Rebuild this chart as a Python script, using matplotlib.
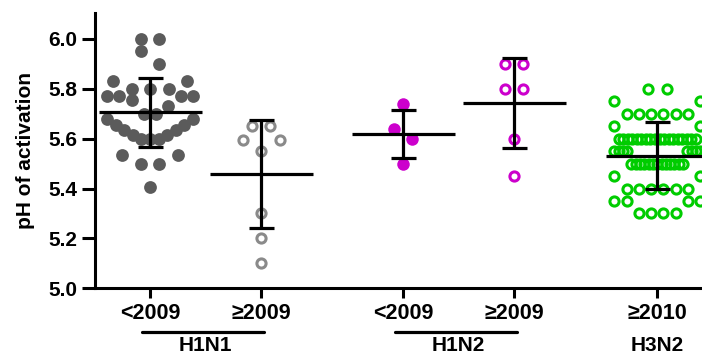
import numpy as np
import matplotlib
matplotlib.use("Agg")
import matplotlib.pyplot as plt
from matplotlib.transforms import blended_transform_factory

plt.rcParams['font.family'] = ['Liberation Sans', 'DejaVu Sans']
plt.rcParams['font.weight'] = 'bold'

# ---------------- data ----------------
tick_labels = ["<2009", "\u22652009", "<2009", "\u22652009", "\u22652010"]
subtypes = ["H1N1", "H1N2", "H3N2"]

h1n1_pre = [6.00, 6.00, 5.95, 5.90, 5.83, 5.83, 5.80, 5.80, 5.80,
            5.77, 5.77, 5.77, 5.77, 5.755, 5.73, 5.70, 5.70,
            5.68, 5.68, 5.655, 5.655, 5.635, 5.635, 5.615, 5.615,
            5.60, 5.60, 5.60, 5.535, 5.535, 5.50, 5.50, 5.405]
h1n1_post = [5.65, 5.65, 5.595, 5.595, 5.55, 5.30, 5.20, 5.10]
h1n2_pre = [5.74, 5.64, 5.60, 5.50]
h1n2_post = [5.90, 5.90, 5.80, 5.80, 5.60, 5.45]
h3n2_post = [5.80, 5.80,
             5.75, 5.75,
             5.70, 5.70, 5.70, 5.70, 5.70, 5.70,
             5.65, 5.65,
             5.60, 5.60, 5.60, 5.60, 5.60, 5.60, 5.60, 5.60, 5.60,
             5.60, 5.60, 5.60, 5.60, 5.60, 5.60, 5.60, 5.60, 5.60,
             5.55, 5.55, 5.55, 5.55, 5.55, 5.55, 5.55, 5.55,
             5.50, 5.50, 5.50, 5.50, 5.50, 5.50, 5.50, 5.50, 5.50,
             5.50, 5.50, 5.50, 5.50,
             5.45, 5.45,
             5.40, 5.40, 5.40, 5.40, 5.40, 5.40,
             5.35, 5.35, 5.35, 5.35,
             5.30, 5.30, 5.30, 5.30]

group_means = [5.706, 5.459, 5.618, 5.742, 5.531]
group_sds = [0.138, 0.217, 0.095, 0.180, 0.134]

# ---------------- layout / style ----------------
groups = [h1n1_pre, h1n1_post, h1n2_pre, h1n2_post, h3n2_post]
positions = [0.0, 1.0, 2.28, 3.28, 4.57]
styles = [
    dict(marker='o', ms=9.2, mfc='#5b5b5b', mec='#5b5b5b', mew=0),
    dict(marker='o', ms=6.6, mfc='none', mec='#8a8a8a', mew=2.2),
    dict(marker='o', ms=9.0, mfc='#cc00cc', mec='#cc00cc', mew=0),
    dict(marker='o', ms=6.6, mfc='none', mec='#cc00cc', mew=2.2),
    dict(marker='o', ms=6.6, mfc='none', mec='#00cc00', mew=2.2),
]
group_label_pos = [(0, 1), (2, 3), (4, 4)]


def binned_offsets(vals, step, width, bin_h=0.1, base=5.0):
    """Prism-like scatter: points binned in y, each bin spread symmetrically."""
    vals = np.asarray(vals, float)
    offs = np.zeros(len(vals))
    bins = np.floor((vals - base) / bin_h + 1e-6).astype(int)
    for b in np.unique(bins):
        idx = np.where(bins == b)[0]
        n = len(idx)
        if n == 1:
            continue
        s = min(step, width / (n - 1))
        slots = (np.arange(n) - (n - 1) / 2.0) * s
        slot_order = sorted(range(n), key=lambda k: (round(abs(slots[k]), 9), -slots[k]))
        val_order = idx[np.argsort(vals[idx], kind='stable')]
        for k, i in zip(slot_order, val_order):
            offs[i] = slots[k]
    return offs


W_PX, H_PX = 702, 354
fig = plt.figure(figsize=(W_PX / 100, H_PX / 100), dpi=100)
ax_left, ax_right, ax_top, ax_bot = 95, 702, 12.7, 288.3
ax = fig.add_axes([ax_left / W_PX, 1 - ax_bot / H_PX,
                   (ax_right - ax_left) / W_PX, (ax_bot - ax_top) / H_PX])

px_per_unit = 111.0
ax.set_xlim(positions[0] - 55 / px_per_unit, positions[0] + (ax_right - 150) / px_per_unit)
ax.set_ylim(5.0, 6.105)

step_u = 18.5 / px_per_unit
width_u = 86.0 / px_per_unit

for vals, pos, st in zip(groups, positions, styles):
    offs = binned_offsets(vals, step_u, width_u)
    ax.plot(pos + offs, vals, linestyle='none', zorder=2, **st)

half_mean = 51.5 / px_per_unit
for pos, m, sd in zip(positions, group_means, group_sds):
    ax.hlines(m, pos - half_mean, pos + half_mean, colors='black', lw=2.3, zorder=4)
ax.errorbar(positions, group_means, yerr=group_sds, fmt='none', ecolor='black',
            elinewidth=2.3, capsize=9, capthick=2.3, zorder=4)

for side in ['top', 'right']:
    ax.spines[side].set_visible(False)
for side in ['left', 'bottom']:
    ax.spines[side].set_linewidth(2.2)

ax.set_yticks([5.0, 5.2, 5.4, 5.6, 5.8, 6.0])
ax.set_yticklabels([f"{v:.1f}" for v in [5.0, 5.2, 5.4, 5.6, 5.8, 6.0]])
ax.set_xticks(positions)
ax.set_xticklabels(tick_labels)
ax.tick_params(axis='y', length=9.5, width=2.2, pad=3, labelsize=15)
ax.tick_params(axis='x', length=7.2, width=2.2, pad=3.5, labelsize=15.5)

ax.set_ylabel("pH of activation", fontsize=15, fontweight='bold', labelpad=10)

trans = blended_transform_factory(ax.transData, ax.transAxes)
bar_y = (ax_bot - 332) / (ax_bot - ax_top)
lab_y = (ax_bot - 351) / (ax_bot - ax_top)
for (i, j), name in zip(group_label_pos, subtypes):
    if i != j:
        ax.plot([positions[i] - 0.07, positions[j] + 0.03], [bar_y, bar_y], color='black',
                lw=2.3, transform=trans, clip_on=False, solid_capstyle='round')
    ax.text((positions[i] + positions[j]) / 2, lab_y, name, transform=trans,
            ha='center', va='baseline', fontsize=15, fontweight='bold')

fig.savefig("out.png", dpi=100)
